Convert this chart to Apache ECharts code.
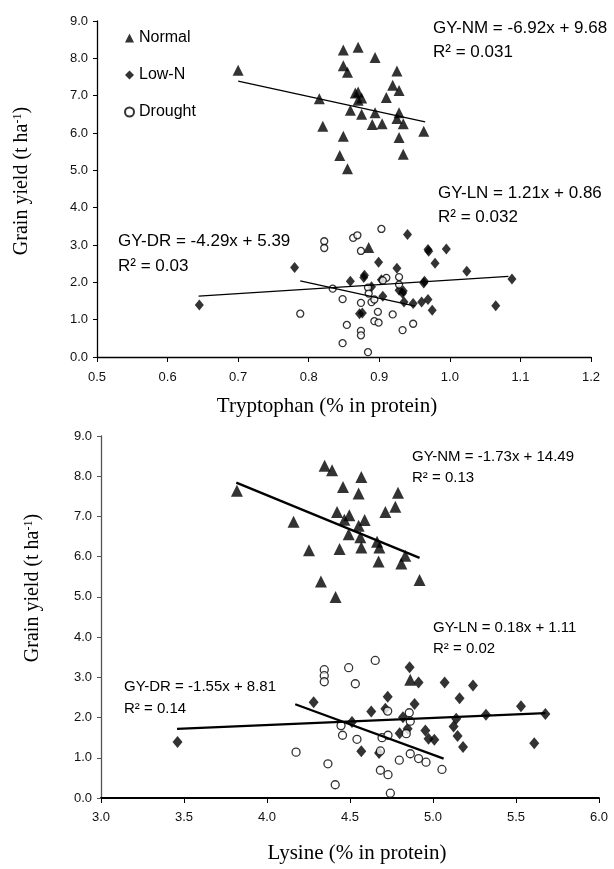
<!DOCTYPE html>
<html>
<head>
<meta charset="utf-8">
<script src="https://cdn.jsdelivr.net/npm/echarts@6/dist/echarts.min.js"></script>
<style>
  html, body { margin: 0; padding: 0; background: #fff; }
  #main { width: 614px; height: 869px; }
</style>
</head>
<body>
<div id="main"></div>
<script>
// tryptophan panel: [tryptophan %, grain yield t/ha]
var trpNormal = [
  [0.700, 7.68], [0.815, 6.92], [0.820, 6.18], [0.844, 5.40], [0.849, 8.22], [0.870, 8.30],
  [0.894, 8.02], [0.849, 7.80], [0.855, 7.63], [0.925, 7.66], [0.919, 7.28], [0.928, 7.14],
  [0.866, 7.07], [0.870, 7.10], [0.875, 6.94], [0.870, 6.88], [0.910, 6.95], [0.859, 6.61],
  [0.875, 6.50], [0.894, 6.54], [0.928, 6.54], [0.925, 6.39], [0.934, 6.25], [0.890, 6.23],
  [0.904, 6.25], [0.963, 6.05], [0.849, 5.91], [0.928, 5.88], [0.934, 5.43], [0.855, 5.04],
  [0.885, 2.93]
];
var trpLowN = [
  [0.645, 1.39], [0.780, 2.40], [0.940, 3.28], [0.969, 2.88], [0.970, 2.83], [0.995, 2.89],
  [0.899, 2.54], [0.979, 2.51], [0.925, 2.38], [1.024, 2.30], [0.879, 2.19], [0.878, 2.13],
  [0.859, 2.03], [0.903, 2.07], [0.964, 2.03], [0.963, 1.98], [1.088, 2.09], [0.889, 1.88],
  [0.928, 1.79], [0.933, 1.71], [0.934, 1.77], [0.905, 1.63], [0.935, 1.47], [0.948, 1.43],
  [0.960, 1.47], [0.969, 1.54], [0.975, 1.25], [1.065, 1.37], [0.872, 1.16], [0.876, 1.18]
];
var trpDrought = [
  [0.822, 3.10], [0.822, 2.92], [0.863, 3.19], [0.869, 3.26], [0.903, 3.43], [0.874, 2.84],
  [0.834, 1.83], [0.848, 1.55], [0.884, 1.86], [0.885, 1.70], [0.889, 1.47], [0.874, 1.45],
  [0.893, 1.54], [0.910, 2.12], [0.905, 2.05], [0.928, 2.14], [0.928, 1.94], [0.788, 1.16],
  [0.898, 1.21], [0.919, 1.14], [0.893, 0.96], [0.899, 0.92], [0.854, 0.86], [0.948, 0.89],
  [0.933, 0.72], [0.874, 0.70], [0.874, 0.58], [0.848, 0.37], [0.884, 0.13]
];
var trpFitNormal = [[0.700, 7.39], [0.965, 6.30]];
var trpFitLowN = [[0.644, 1.63], [1.083, 2.16]];
var trpFitDrought = [[0.788, 2.04], [0.951, 1.36]];

// lysine panel: [lysine %, grain yield t/ha]
var lysNormal = [
  [3.819, 7.64], [4.160, 6.87], [4.253, 6.16], [4.325, 5.38], [4.413, 5.00], [4.347, 8.26],
  [4.392, 8.15], [4.422, 7.11], [4.437, 6.19], [4.568, 7.98], [4.458, 7.73], [4.552, 7.57],
  [4.789, 7.59], [4.773, 7.24], [4.713, 7.11], [4.496, 7.03], [4.466, 6.92], [4.588, 6.91],
  [4.552, 6.77], [4.492, 6.56], [4.562, 6.48], [4.663, 6.37], [4.568, 6.23], [4.677, 6.23],
  [4.833, 6.02], [4.672, 5.88], [4.809, 5.83], [4.919, 5.42], [4.863, 2.94]
];
var lysLowN = [
  [3.461, 1.39], [4.281, 2.38], [4.859, 3.25], [4.913, 2.87], [5.070, 2.87], [5.241, 2.80],
  [4.727, 2.52], [5.160, 2.48], [4.889, 2.34], [4.628, 2.15], [5.530, 2.28], [4.713, 2.22],
  [5.677, 2.09], [5.319, 2.07], [4.819, 2.01], [5.140, 1.97], [4.512, 1.89], [5.124, 1.78],
  [4.847, 1.72], [4.954, 1.68], [4.799, 1.61], [5.148, 1.54], [4.973, 1.47], [5.008, 1.45],
  [5.181, 1.27], [5.610, 1.36], [4.568, 1.16], [4.675, 1.12]
];
var lysDrought = [
  [4.175, 1.14], [4.367, 0.85], [4.411, 0.33], [4.345, 3.19], [4.345, 3.04], [4.345, 2.89],
  [4.492, 3.24], [4.652, 3.42], [4.532, 2.84], [4.727, 2.16], [4.857, 2.12], [4.863, 1.91],
  [4.839, 1.60], [4.446, 1.80], [4.455, 1.56], [4.542, 1.46], [4.693, 1.50], [4.729, 1.56],
  [4.683, 1.17], [4.863, 1.10], [4.797, 0.94], [4.913, 0.98], [4.958, 0.89], [5.054, 0.71],
  [4.683, 0.69], [4.729, 0.58], [4.743, 0.12]
];
var lysFitNormal = [[3.815, 7.84], [4.919, 5.97]];
var lysFitLowN = [[3.458, 1.72], [5.677, 2.11]];
var lysFitDrought = [[4.170, 2.33], [5.064, 0.98]];

var groupNames = ['Normal', 'Low-N', 'Drought'];
var trpEquations = ['GY-NM = -6.92x + 9.68', 'R² = 0.031', 'GY-LN = 1.21x + 0.86', 'R² = 0.032', 'GY-DR = -4.29x + 5.39', 'R² = 0.03'];
var lysEquations = ['GY-NM = -1.73x + 14.49', 'R² = 0.13', 'GY-LN = 0.18x + 1.11', 'R² = 0.02', 'GY-DR = -1.55x + 8.81', 'R² = 0.14'];

var myChart = echarts.init(document.getElementById('main'));

var sans = '"Liberation Sans", Arial, sans-serif';
var serif = '"Liberation Serif", "Times New Roman", serif';

function scatter(name, idx, data, shape, size, filled) {
  return {
    name: name,
    type: 'scatter',
    xAxisIndex: idx,
    yAxisIndex: idx,
    symbol: shape,
    symbolSize: size,
    data: data,
    z: 3,
    itemStyle: filled
      ? { color: '#000' }
      : { color: '#fff', borderColor: '#000', borderWidth: 1.3 }
  };
}
function fitLine(idx, data, w) {
  return {
    type: 'line',
    xAxisIndex: idx,
    yAxisIndex: idx,
    data: data,
    symbol: 'none',
    silent: true,
    z: 4,
    lineStyle: { color: '#000', width: w }
  };
}
function note(text, x, y, size) {
  return {
    type: 'text',
    left: x,
    top: y - size / 2 - 1,
    style: { text: text, fontSize: size, fontFamily: sans, fill: '#000' }
  };
}
function yTitle(x, y) {
  return {
    type: 'text',
    x: x,
    y: y,
    rotation: Math.PI / 2,
    style: {
      text: 'Grain yield (t ha{s|-1})',
      fontSize: 20,
      fontFamily: serif,
      fill: '#000',
      align: 'center',
      verticalAlign: 'middle',
      rich: { s: { fontSize: 12, fontFamily: serif, verticalAlign: 'top', padding: [0, 0, 8, 0] } }
    }
  };
}
function xTitle(text, cx, top) {
  return {
    type: 'text', x: cx, y: top,
    style: { text: text, fontSize: 21, fontFamily: serif, fill: '#000', align: 'center' }
  };
}

function xAxisOf(idx, min, max, step, lineW, gap) {
  return {
    gridIndex: idx, type: 'value', min: min, max: max, interval: step,
    splitLine: { show: false },
    axisLine: { lineStyle: { color: '#000', width: lineW } },
    axisTick: { length: 5, lineStyle: { color: '#000', width: 1 } },
    axisLabel: { margin: gap, fontSize: 13, fontFamily: sans, color: '#111',
      formatter: function (v) { return v.toFixed(1); } }
  };
}
function yAxisOf(idx, lineColor) {
  return {
    gridIndex: idx, type: 'value', min: 0, max: 9, interval: 1,
    splitLine: { show: false },
    axisLine: { show: true, lineStyle: { color: lineColor, width: 1.3 } },
    axisTick: { show: true, length: 4, lineStyle: { color: lineColor } },
    axisLabel: { margin: 9, fontSize: 13, fontFamily: sans, color: '#111',
      formatter: function (v) { return v.toFixed(1); } }
  };
}

myChart.setOption({
  animation: false,
  backgroundColor: '#fff',
  grid: [
    { left: 97, right: 23, top: 21, height: 336 },
    { left: 101, right: 15, top: 436, height: 362 }
  ],
  legend: {
    data: groupNames,
    orient: 'vertical',
    left: 119,
    top: 25,
    itemWidth: 9,
    itemHeight: 9,
    itemGap: 21,
    textStyle: { fontSize: 16, fontFamily: sans, color: '#000' }
  },
  xAxis: [xAxisOf(0, 0.5, 1.2, 0.1, 1.3, 14), xAxisOf(1, 3.0, 6.0, 0.5, 2, 13)],
  yAxis: [yAxisOf(0, '#000'), yAxisOf(1, '#555')],
  series: [
    scatter('Normal', 0, trpNormal, 'triangle', 11, true),
    scatter('Low-N', 0, trpLowN, 'diamond', [9, 11], true),
    scatter('Drought', 0, trpDrought, 'circle', 7, false),
    fitLine(0, trpFitNormal, 1.3),
    fitLine(0, trpFitLowN, 1.3),
    fitLine(0, trpFitDrought, 1.3),
    scatter('Normal', 1, lysNormal, 'triangle', 12, true),
    scatter('Low-N', 1, lysLowN, 'diamond', [10, 12], true),
    scatter('Drought', 1, lysDrought, 'circle', 8, false),
    fitLine(1, lysFitNormal, 2.3),
    fitLine(1, lysFitLowN, 2.3),
    fitLine(1, lysFitDrought, 2.3)
  ],
  graphic: [
    note(trpEquations[0], 433, 29, 17),
    note(trpEquations[1], 433, 53, 17),
    note(trpEquations[2], 438, 194, 17),
    note(trpEquations[3], 438, 218, 17),
    note(trpEquations[4], 118, 242, 17),
    note(trpEquations[5], 118, 267, 17),
    note(lysEquations[0], 412, 458, 15),
    note(lysEquations[1], 412, 479, 15),
    note(lysEquations[2], 433, 629, 15),
    note(lysEquations[3], 433, 650, 15),
    note(lysEquations[4], 124, 688, 15),
    note(lysEquations[5], 124, 710, 15),
    yTitle(22, 181),
    yTitle(33, 588),
    xTitle('Tryptophan (% in protein)', 327, 396),
    xTitle('Lysine (% in protein)', 357, 843)
  ]
});
</script>
</body>
</html>
